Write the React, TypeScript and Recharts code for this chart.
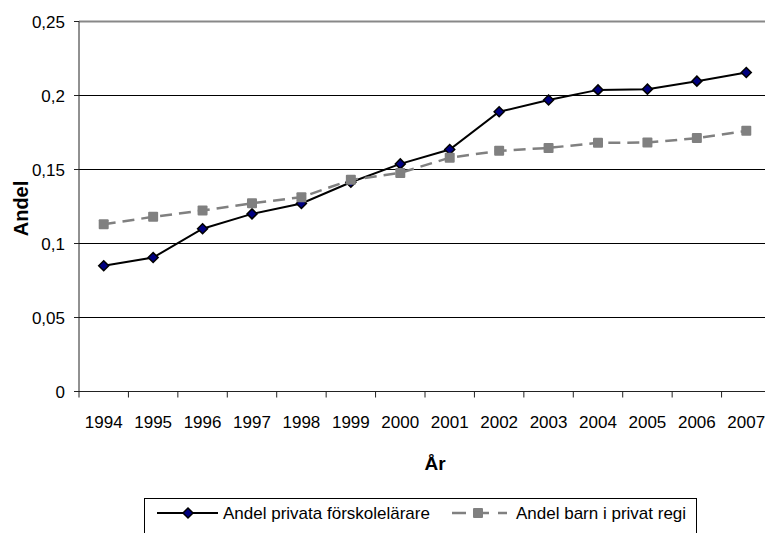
import { LineChart, Line, XAxis, YAxis, CartesianGrid, Legend, ReferenceLine, Label } from 'recharts';

const years = ['1994', '1995', '1996', '1997', '1998', '1999', '2000', '2001', '2002', '2003', '2004', '2005', '2006', '2007'];
const privataForskollarare = [0.085, 0.0905, 0.11, 0.12, 0.127, 0.1414, 0.1538, 0.1635, 0.189, 0.197, 0.2038, 0.2043, 0.2097, 0.2155];
const barnPrivatRegi = [0.113, 0.118, 0.1223, 0.1272, 0.1313, 0.143, 0.1477, 0.158, 0.1626, 0.1646, 0.168, 0.1682, 0.1712, 0.1761];
const yTicks = [0, 0.05, 0.1, 0.15, 0.2, 0.25];

const data = years.map((year, i) => ({
  idx: i,
  year,
  privata: privataForskollarare[i],
  barn: barnPrivatRegi[i],
}));

// centers get the year label, half steps get the tick mark (Excel-style category axis)
const xTicks: number[] = [];
years.forEach((_, i) => xTicks.push(i - 0.5, i));
xTicks.push(years.length - 0.5);

const FONT = '"Liberation Sans", Arial, sans-serif';
const AXIS = '#222';

const fmtY = (v: number) => String(v).replace('.', ',');

function YearTick(props: any) {
  const { x, y, payload } = props;
  const v = payload.value;
  if (Number.isInteger(v)) {
    return (
      <text x={x} y={y + 36} textAnchor="middle" fontSize={17} fontFamily={FONT} fill="#000">
        {years[v]}
      </text>
    );
  }
  return <line x1={x} x2={x} y1={y} y2={y + 6} stroke={AXIS} strokeWidth={1} />;
}

function Diamond({ cx, cy }: { cx: number; cy: number }) {
  return (
    <polygon
      points={`${cx},${cy - 5} ${cx + 5},${cy} ${cx},${cy + 5} ${cx - 5},${cy}`}
      fill="#000080"
      stroke="#000"
      strokeWidth={1.5}
    />
  );
}

function Square({ cx, cy }: { cx: number; cy: number }) {
  return <rect x={cx - 5} y={cy - 5} width={10} height={10} rx={1} fill="#808080" />;
}

// sample line start/end, marker center and text start for each legend item
const legendOrder = ['privata', 'barn'];
const legendLayout: Record<string, { x1: number; x2: number; mx: number; tx: number }> = {
  privata: { x1: 13, x2: 74, mx: 44, tx: 79 },
  barn: { x1: 308, x2: 363, mx: 334, tx: 372 },
};

function LegendBox(props: any) {
  const { payload = [] } = props;
  const items = legendOrder
    .map((k) => payload.find((e: any) => e.dataKey === k))
    .filter(Boolean);
  return (
    <svg width={553} height={36}>
      <rect x={0.5} y={0.5} width={552} height={45} fill="#fff" stroke="#000" />
      {items.map((entry: any) => {
        const l = legendLayout[entry.dataKey];
        const dashed = entry.dataKey === 'barn';
        return (
          <g key={entry.dataKey}>
            <line
              x1={l.x1}
              x2={l.x2}
              y1={15}
              y2={15}
              stroke={entry.color}
              strokeWidth={dashed ? 2.5 : 2}
              strokeDasharray={dashed ? '14 9' : undefined}
            />
            {dashed ? <Square cx={l.mx} cy={15} /> : <Diamond cx={l.mx} cy={15} />}
            <text x={l.tx} y={21} fontSize={17} fontFamily={FONT} fill="#000">
              {entry.value}
            </text>
          </g>
        );
      })}
    </svg>
  );
}

export default function App() {
  return (
    <div style={{ position: 'absolute', left: 0, top: 0, width: 765, height: 533, overflow: 'hidden', background: '#fff' }}>
      <LineChart width={771} height={533} data={data} margin={{ top: 21.5, right: 0, bottom: 111.5, left: 0 }}>
        <CartesianGrid vertical={false} stroke="#000" />
        <ReferenceLine y={0.25} stroke="#888" strokeWidth={2} />
        <XAxis
          dataKey="idx"
          type="number"
          domain={[-0.5, years.length - 0.5]}
          ticks={xTicks}
          interval={0}
          tick={<YearTick />}
          tickLine={false}
          tickSize={0}
          tickMargin={0}
          height={30}
          stroke={AXIS}
        >
          <Label
            content={(p: any) => (
              <text
                x={p.viewBox.x + p.viewBox.width / 2 + 10}
                y={p.viewBox.y + 78}
                textAnchor="middle"
                fontSize={19}
                fontWeight="bold"
                fontFamily={FONT}
                fill="#000"
              >
                År
              </text>
            )}
          />
        </XAxis>
        <YAxis
          domain={[0, 0.25]}
          ticks={yTicks}
          tickFormatter={fmtY}
          width={79}
          tickSize={5}
          tickMargin={9}
          stroke={AXIS}
          tick={{ fontSize: 17, fontFamily: FONT, fill: '#000' }}
        >
          <Label
            content={(p: any) => {
              const x = p.viewBox.x + 21;
              const y = p.viewBox.y + p.viewBox.height / 2 + 2;
              return (
                <text
                  x={x}
                  y={y}
                  transform={`rotate(-90 ${x} ${y})`}
                  textAnchor="middle"
                  dominantBaseline="central"
                  fontSize={20}
                  fontWeight="bold"
                  fontFamily={FONT}
                  fill="#000"
                >
                  Andel
                </text>
              );
            }}
          />
        </YAxis>
        <Legend
          layout="horizontal"
          verticalAlign="middle"
          align="center"
          content={<LegendBox />}
          wrapperStyle={{ position: 'absolute', left: 144, top: 498, width: 553, height: 36, bottom: 'auto' }}
        />
        <Line
          type="linear"
          dataKey="privata"
          name="Andel privata förskolelärare"
          stroke="#000"
          strokeWidth={2}
          dot={(p: any) => <Diamond key={`d-${p.index}`} cx={p.cx} cy={p.cy} />}
          isAnimationActive={false}
        />
        <Line
          type="linear"
          dataKey="barn"
          name="Andel barn i privat regi"
          stroke="#808080"
          strokeWidth={2.5}
          strokeDasharray="12 7"
          dot={(p: any) => <Square key={`s-${p.index}`} cx={p.cx} cy={p.cy} />}
          isAnimationActive={false}
        />
      </LineChart>
    </div>
  );
}
